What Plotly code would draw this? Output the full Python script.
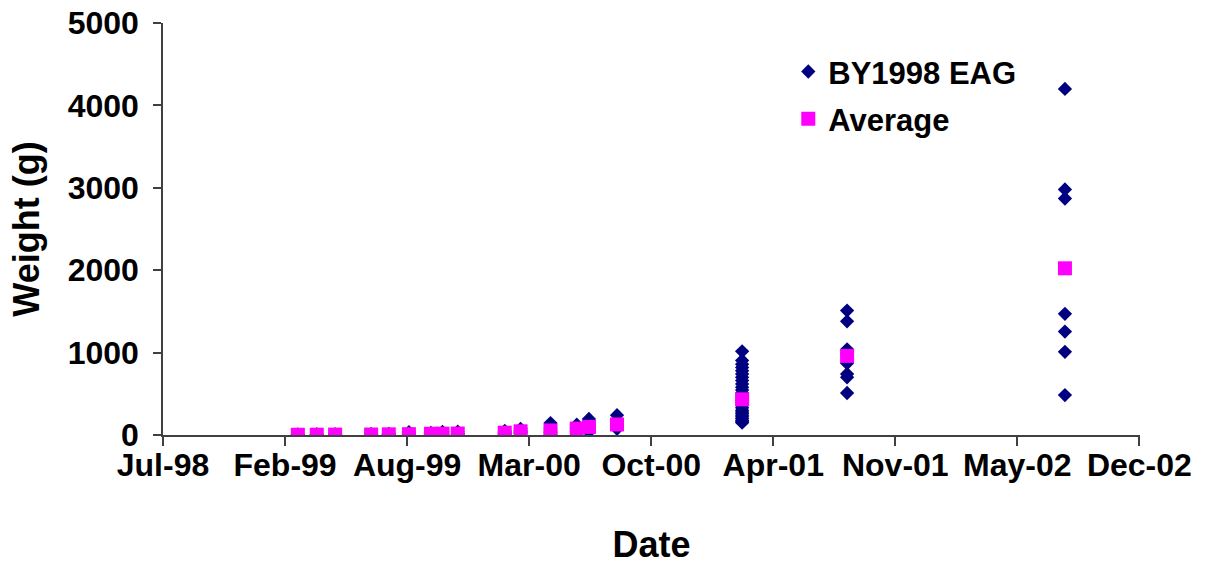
import plotly.graph_objects as go

# ---- data ----
sample_dates = [
    "1999-03-02", "1999-04-02", "1999-05-02", "1999-06-30", "1999-07-29",
    "1999-08-31", "1999-10-06", "1999-10-25", "1999-11-19",
    "2000-02-04", "2000-03-01", "2000-04-19", "2000-06-01", "2000-06-21",
    "2000-08-06", "2001-02-27", "2001-08-18", "2002-08-10",
]
sample_weights = [
    [2, 3, 5],
    [3, 4, 6],
    [4, 5, 7],
    [4, 6, 9],
    [5, 8, 12],
    [5, 10, 36],
    [8, 15, 25],
    [9, 16, 38],
    [10, 18, 40],
    [5, 15, 25, 35, 50],
    [18, 30, 40, 55, 75],
    [8, 30, 50, 80, 145],
    [38, 55, 75, 95, 125],
    [38, 60, 90, 130, 195],
    [75, 90, 120, 170, 240],
    [1015, 905, 860, 820, 780, 740, 700, 660, 620, 580, 545, 510, 480,
     450, 420, 390, 360, 330, 300, 280, 260, 240, 220, 200, 180, 165, 150],
    [1510, 1380, 1040, 990, 870, 740, 700, 510],
    [4200, 2980, 2870, 1470, 1255, 1010, 485],
]
avg_dates = sample_dates
avg_values = [3, 4, 5, 6, 8, 10, 15, 16, 18, 28, 45, 55, 78, 98, 128, 433, 960, 2023]

x_tick0 = "1998-07-24"
x_range = ["1998-07-24", "2002-12-11"]
y_tickvals = [0, 1000, 2000, 3000, 4000, 5000]

# flatten individual samples
ind_x, ind_y = [], []
for d, ws in zip(sample_dates, sample_weights):
    for w in ws:
        ind_x.append(d)
        ind_y.append(w)

FONT = "Liberation Sans, Arial, sans-serif"

fig = go.Figure()
fig.add_trace(go.Scatter(
    x=ind_x, y=ind_y, mode="markers", name="BY1998 EAG",
    legendgroup="a",
    marker=dict(symbol="diamond", size=11, color="#000080",
                line=dict(width=0)),
))
fig.add_trace(go.Scatter(
    x=avg_dates, y=avg_values, mode="markers", name="Average",
    legendgroup="b",
    marker=dict(symbol="square", size=14, color="#FF00FF",
                line=dict(width=0)),
))

fig.update_layout(
    width=1205, height=565,
    margin=dict(l=163, r=65, t=23, b=130, autoexpand=False),
    paper_bgcolor="white", plot_bgcolor="white",
    font=dict(family=FONT, color="black"),
    showlegend=True,
    legend=dict(
        x=0.64, y=0.947, xanchor="left", yanchor="top",
        font=dict(family=FONT, size=31, color="black", weight="bold"),
        bgcolor="rgba(0,0,0,0)", tracegroupgap=4,
        traceorder="grouped",
    ),
    xaxis=dict(
        type="date", range=x_range, tick0=x_tick0,
        dtick=200 * 86400000, tickformat="%b-%y",
        showgrid=False, zeroline=False, automargin=False,
        showline=True, linecolor="#404040", linewidth=1.5,
        ticks="outside", ticklen=9, tickcolor="#404040", tickwidth=1.5,
        ticklabelstandoff=-8,
        tickfont=dict(family=FONT, size=32, color="black", weight="bold"),
        title=dict(text="Date", standoff=51,
                   font=dict(family=FONT, size=36, color="black", weight="bold")),
    ),
    yaxis=dict(
        range=[0, 5000], tickvals=y_tickvals, automargin=False,
        showgrid=False, zeroline=False,
        showline=True, linecolor="#404040", linewidth=1.5,
        ticks="outside", ticklen=8, tickcolor="#404040", tickwidth=1.5,
        ticklabelstandoff=8,
        tickfont=dict(family=FONT, size=32, color="black", weight="bold"),
        title=dict(text="Weight (g)", standoff=17,
                   font=dict(family=FONT, size=36, color="black", weight="bold")),
    ),
)

fig.write_html("out.html")
